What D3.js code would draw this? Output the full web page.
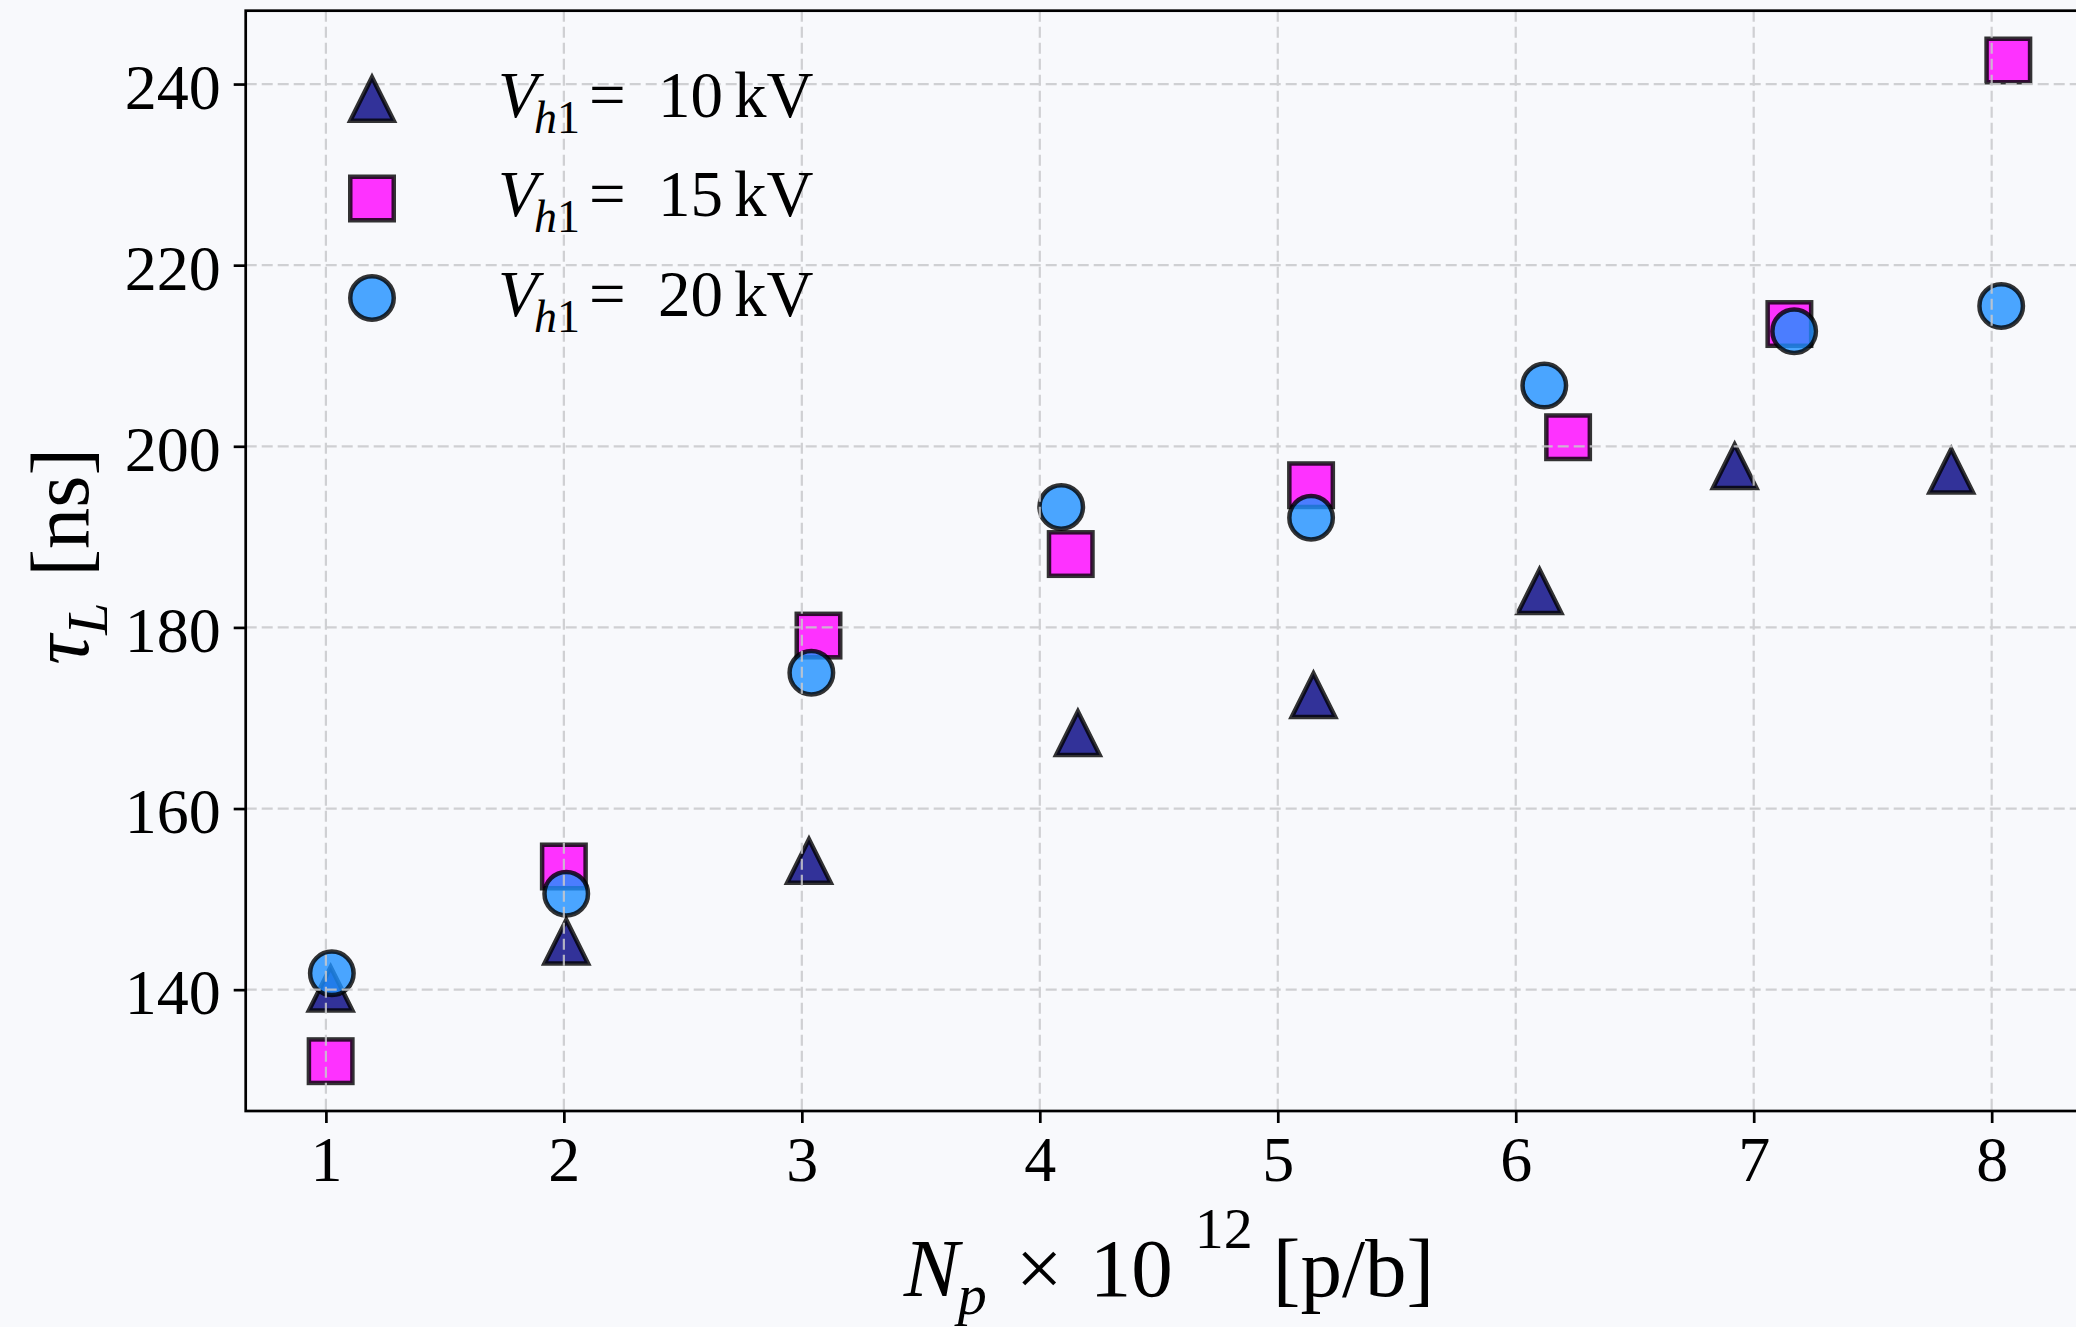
<!DOCTYPE html>
<html>
<head>
<meta charset="utf-8">
<script src="https://cdn.jsdelivr.net/npm/d3@7"></script>
<style>
  body { margin: 0; background: #f8f9fc; }
  svg { display: block; }
  text { font-family: "Liberation Serif", "Times New Roman", serif; fill: #000; }
</style>
</head>
<body>
<script>
//series data
var xTri = [1.02, 2.01, 3.03, 4.16, 5.15, 6.10, 6.92, 7.83];
var yTri = [140.1, 145.3, 154.2, 168.3, 172.5, 184.0, 197.8, 197.3];

var xSq = [1.02, 2.0, 3.07, 4.13, 5.14, 6.22, 7.15, 8.07];
var ySq = [132.1, 153.6, 179.1, 188.1, 195.7, 201.0, 213.5, 242.6];

var xCirc = [1.025, 2.01, 3.04, 4.09, 5.14, 6.12, 7.17, 8.04];
var yCirc = [141.8, 150.6, 175.0, 193.3, 192.1, 206.7, 212.7, 215.5];

var seriesNames = ["10", "15", "20"];
var seriesColors = ["#000080", "#ff00ff", "#1e90ff"];
var seriesShapes = ["triangle", "square", "circle"];

var xTicks = [1, 2, 3, 4, 5, 6, 7, 8];
var yTicks = [140, 160, 180, 200, 220, 240];

(function(){

var width = 2076, height = 1327;
var left = 245.7, top = 10.7, bottom = 1111, right = 2094;
var ms = 43.5;     //marker size
var lw = 4.5;      //marker edge width

var svg = d3.select("body").append("svg")
    .attr("width", width)
    .attr("height", height);

svg.append("rect").attr("width", width).attr("height", height).attr("fill", "#f8f9fc");

var x = d3.scaleLinear().domain([0.663, 8.43]).range([left, right]);
var y = d3.scaleLinear().domain([126.6, 248.1]).range([bottom, top]);

var series = [
    {x: xTri, y: yTri},
    {x: xSq, y: ySq},
    {x: xCirc, y: yCirc}
];

//draw one marker into a selection
function marker(sel, shape, color){
    var h = ms / 2;
    var m;
    if (shape == "triangle"){
        m = sel.append("path").attr("d", "M0," + (-h) + "L" + (-h) + "," + h + "L" + h + "," + h + "Z")
            .attr("stroke-linejoin", "miter");
    } else if (shape == "square"){
        m = sel.append("rect").attr("x", -h).attr("y", -h).attr("width", ms).attr("height", ms)
            .attr("stroke-linejoin", "miter");
    } else {
        m = sel.append("circle").attr("r", h);
    }
    m.attr("fill", color)
     .attr("fill-opacity", 0.8)
     .attr("stroke", "#000")
     .attr("stroke-opacity", 0.8)
     .attr("stroke-width", lw);
    return m;
}

//scatter points
series.forEach(function(s, k){
    var pts = s.x.map(function(v, i){ return [v, s.y[i]]; });
    svg.append("g").selectAll("g")
        .data(pts)
        .enter()
        .append("g")
        .attr("transform", function(d){ return "translate(" + x(d[0]) + "," + y(d[1]) + ")"; })
        .each(function(){ marker(d3.select(this), seriesShapes[k], seriesColors[k]); });
});

//grid (drawn over the markers like the source)
var grid = svg.append("g").attr("stroke", "#c9c9cc").attr("stroke-width", 2.2)
    .attr("stroke-dasharray", "11,5").attr("opacity", 0.85);
grid.selectAll(".vg").data(xTicks).enter().append("line")
    .attr("x1", function(d){ return x(d); }).attr("x2", function(d){ return x(d); })
    .attr("y1", top).attr("y2", bottom);
grid.selectAll(".hg").data(yTicks).enter().append("line")
    .attr("y1", function(d){ return y(d); }).attr("y2", function(d){ return y(d); })
    .attr("x1", left).attr("x2", right);

//axes
var xAxis = svg.append("g")
    .attr("transform", "translate(0," + bottom + ")")
    .call(d3.axisBottom(x).tickValues(xTicks).tickSize(12).tickSizeOuter(0).tickPadding(13));
var yAxis = svg.append("g")
    .attr("transform", "translate(" + left + ",0)")
    .call(d3.axisLeft(y).tickValues(yTicks).tickSize(12).tickSizeOuter(0).tickPadding(13));

[xAxis, yAxis].forEach(function(a){
    a.select(".domain").remove();
    a.selectAll("line").attr("stroke", "#000").attr("stroke-width", 2.7);
    a.selectAll("text").attr("font-size", 64).attr("font-family", "Liberation Serif").attr("fill", "#000");
});
yAxis.selectAll("text").attr("dy", "0.38em");

//spines
svg.append("rect")
    .attr("x", left).attr("y", top)
    .attr("width", right - left).attr("height", bottom - top)
    .attr("fill", "none").attr("stroke", "#000").attr("stroke-width", 2.7);

//legend
var legX = 372, legTextX = 498, legY0 = 99, legStep = 99.5;
seriesNames.forEach(function(name, k){
    var cy = legY0 + k * legStep;
    var g = svg.append("g").attr("transform", "translate(" + legX + "," + cy + ")");
    marker(g, seriesShapes[k], seriesColors[k]);
    var t = svg.append("text").attr("y", cy + 17.5).attr("font-size", 65);
    t.append("tspan").attr("x", legTextX).attr("font-style", "italic").text("V");
    t.append("tspan").attr("x", legTextX + 36).attr("font-size", 46).attr("dy", 16).attr("font-style", "italic").text("h");
    t.append("tspan").attr("font-size", 46).text("1");
    t.append("tspan").attr("x", legTextX + 91).attr("dy", -16).text("=");
    t.append("tspan").attr("x", legTextX + 160).text(name);
    t.append("tspan").attr("x", legTextX + 236).text("kV");
});

//x label
var cx = (left + right) / 2;
var xl = svg.append("text").attr("y", 1296).attr("font-size", 83);
xl.append("tspan").attr("x", cx - 266).attr("font-style", "italic").text("N");
xl.append("tspan").attr("x", cx - 212).attr("dy", 18).attr("font-size", 58).attr("font-style", "italic").text("p");
xl.append("tspan").attr("x", cx - 154).attr("dy", -18).text("×");
xl.append("tspan").attr("x", cx - 80).text("10");
xl.append("tspan").attr("x", cx + 25).attr("dy", -48).attr("font-size", 58).text("12");
xl.append("tspan").attr("x", cx + 103).attr("dy", 48).text("[p/b]");

//y label
var cyl = (top + bottom) / 2;
var yl = svg.append("text").attr("font-size", 83)
    .attr("transform", "translate(88," + (cyl + 104) + ") rotate(-90)");
yl.append("tspan").attr("x", 0).attr("font-style", "italic").text("τ");
yl.append("tspan").attr("x", 30).attr("dy", 19).attr("font-size", 58).attr("font-style", "italic").text("L");
yl.append("tspan").attr("x", 88).attr("dy", -19).text("[ns]");

})();
</script>
</body>
</html>
